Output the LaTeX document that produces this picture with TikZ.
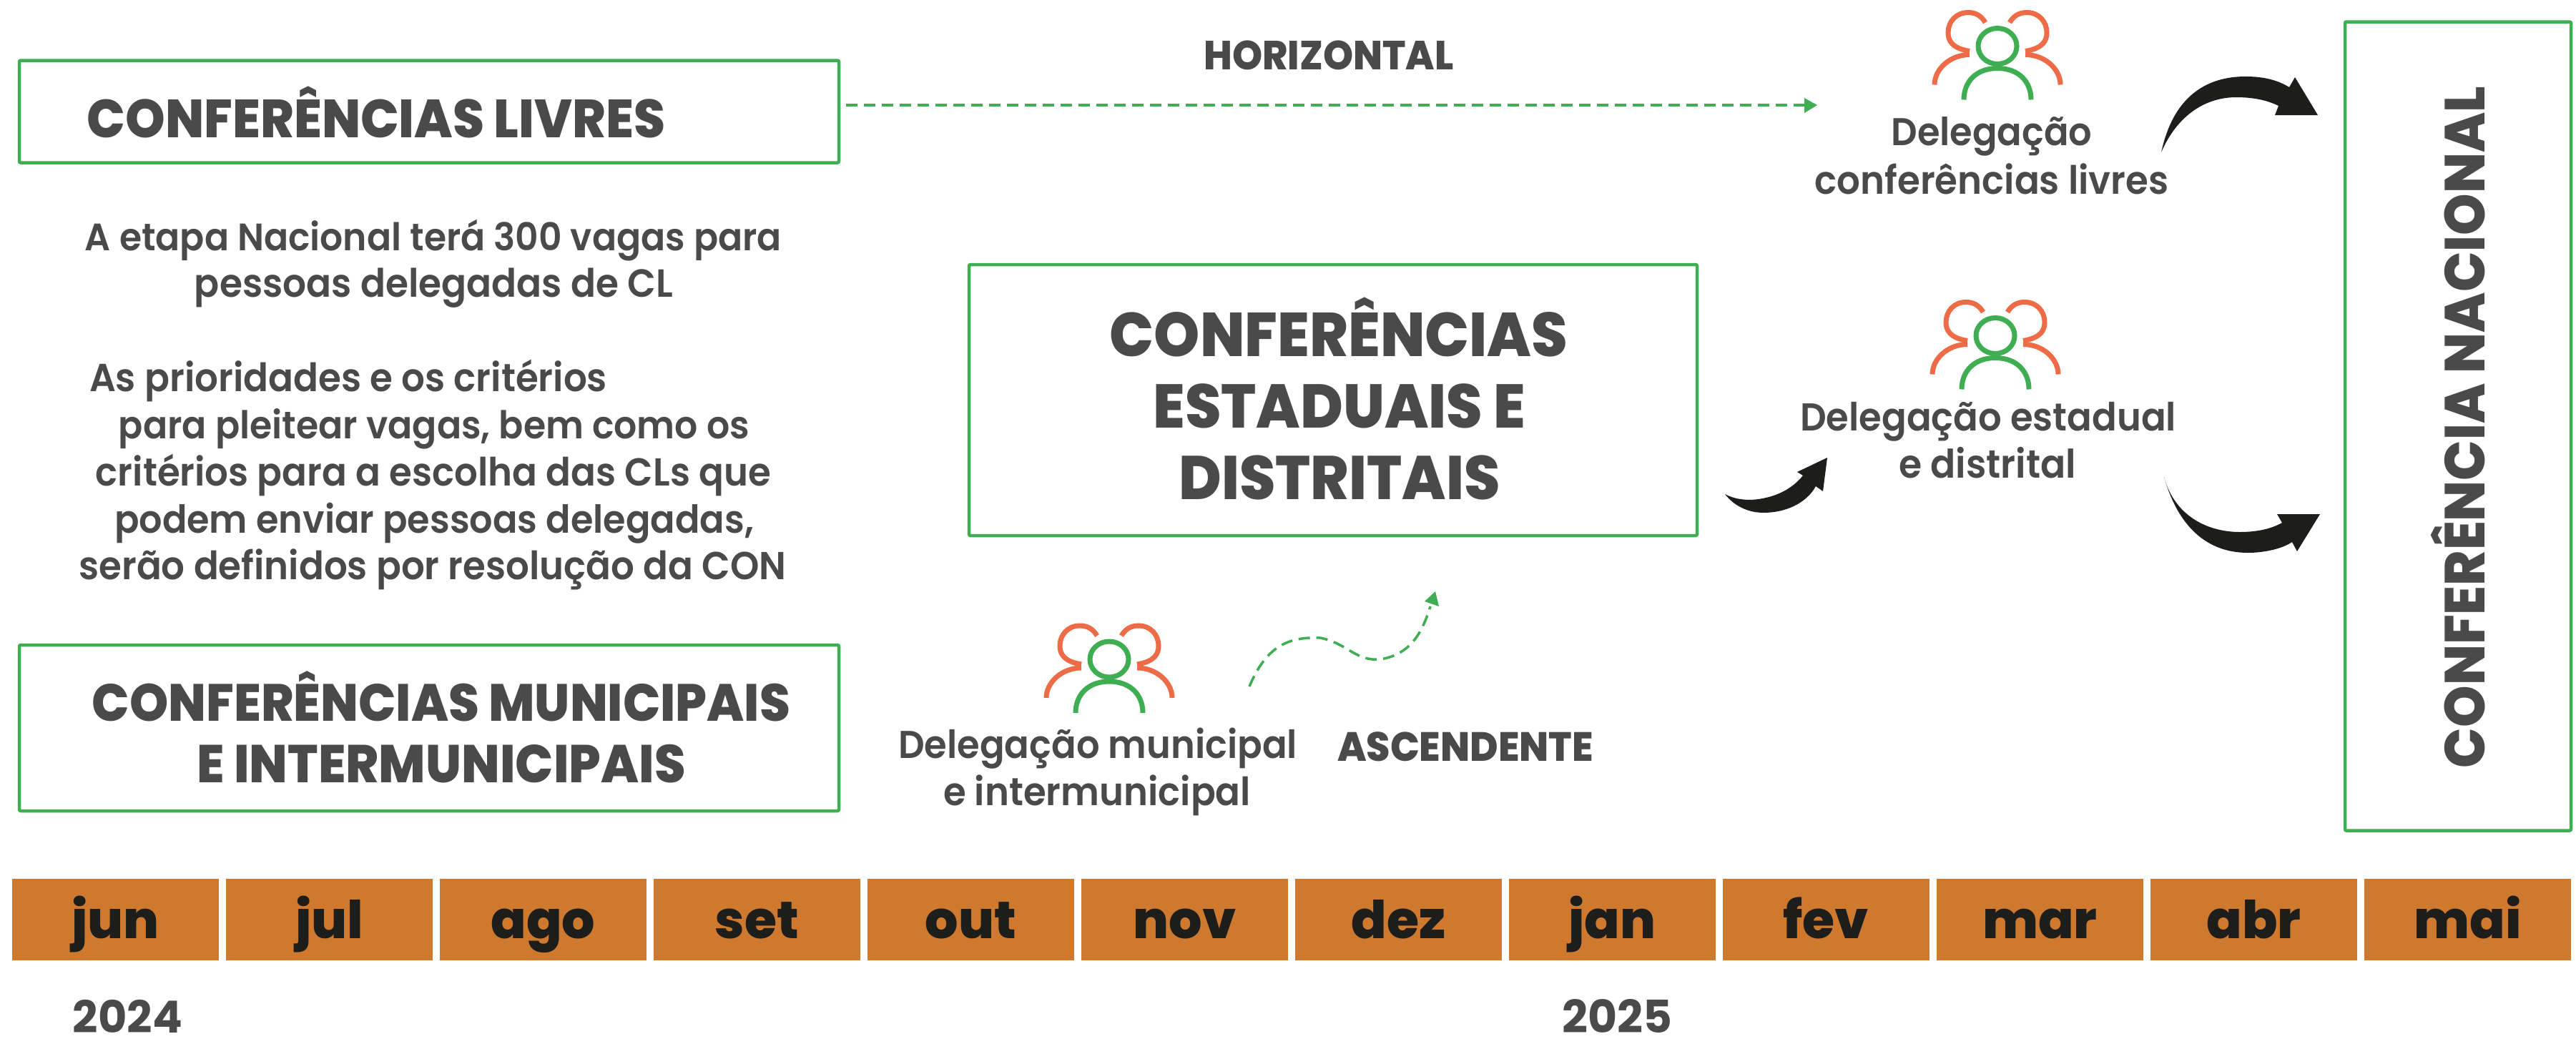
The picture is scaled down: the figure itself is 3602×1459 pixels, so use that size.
\documentclass[tikz,border=0pt]{standalone}
\usepackage{fontspec}
\usetikzlibrary{arrows.meta}
\setmainfont{Poppins}
\newfontfamily\hvyf{Poppins ExtraBold}
\newfontfamily\medf{Poppins SemiBold}
\definecolor{grn}{HTML}{3FAE52}
\definecolor{org}{HTML}{EE6B47}
\definecolor{txt}{HTML}{4A4A4A}
\definecolor{blk}{HTML}{1D1D1B}
\definecolor{bar}{HTML}{CE792E}
\newcommand{\fitw}[2]{\scalebox{1}[1.06]{\resizebox{#1pt}{!}{#2}}}
\tikzset{
  x=1pt,y=-1pt,
  gbox/.style={draw=grn,line width=4.5pt,rounded corners=2pt,inner sep=0},
  hd/.style={text=txt,font=\fontsize{54}{70}\selectfont\hvyf,inner sep=0,anchor=base},
  lbl/.style={text=txt,font=\fontsize{54}{70}\selectfont\medf,inner sep=0,anchor=base},
  monthcell/.style={fill=bar,draw=none,minimum width=289pt,minimum height=114pt,inner sep=0},
  monthtext/.style={text=blk,font=\fontsize{73}{70}\selectfont\hvyf,inner sep=0,anchor=base},
  yeartext/.style={text=txt,font=\fontsize{62}{70}\selectfont\bfseries,inner sep=0,anchor=base},
  grnln/.style={draw=grn,line width=7pt},
  orgln/.style={draw=org,line width=7pt},
  dashl/.style={draw=grn,line width=3.5pt,dash pattern=on 16pt off 9pt},
  blob/.style={fill=blk,draw=none},
  people/.pic={
    \draw[orgln] (-17,-33) .. controls (-23,-43) and (-31,-47) .. (-41,-47) .. controls (-58,-47) and (-69,-34) .. (-69,-19) .. controls (-69,-8) and (-64,3) .. (-39,7);
    \draw[orgln] (-39,12) .. controls (-66,12) and (-88,32) .. (-88,54);
    \draw[orgln] (17,-33) .. controls (23,-43) and (31,-47) .. (41,-47) .. controls (58,-47) and (69,-34) .. (69,-19) .. controls (69,-8) and (64,3) .. (39,7);
    \draw[orgln] (39,12) .. controls (66,12) and (88,32) .. (88,54);
    \draw[grnln] (0,0) ellipse (27 and 25);
    \draw[grnln] (-47,75) .. controls (-47,50) and (-30,31) .. (0,31) .. controls (30,31) and (47,50) .. (47,75);
  }
}
\begin{document}
\begin{tikzpicture}
\useasboundingbox (0,0) rectangle (3602,1459);
% boxes
\node[gbox,minimum width=1146pt,minimum height=143pt] (livres) at (600,156) {};
\node[gbox,minimum width=1146pt,minimum height=232pt] (munic) at (600,1018) {};
\node[gbox,minimum width=1018pt,minimum height=379pt] (estad) at (1864,559.5) {};
\node[gbox,minimum width=316pt,minimum height=1131pt] (nacional) at (3437,596) {};
% headings
\node[hd] (tlivres) at (526,192) {\fitw{808}{CONFERÊNCIAS LIVRES}};
\node[hd] (tm1) at (617,1008) {\fitw{976}{CONFERÊNCIAS MUNICIPAIS}};
\node[hd] (tm2) at (617,1094) {\fitw{683}{E INTERMUNICIPAIS}};
\node[hd] (te1) at (1872,498) {\fitw{640}{CONFERÊNCIAS}};
\node[hd] (te2) at (1873,598) {\fitw{521}{ESTADUAIS E}};
\node[hd] (te3) at (1873,698) {\fitw{449}{DISTRITAIS}};
\node[hd,rotate=90] (tn) at (3474,597.5) {\fitw{953}{CONFERÊNCIA NACIONAL}};
\node[hd] (hor) at (1858,97) {\fitw{349}{HORIZONTAL}};
\node[hd] (asc) at (2049,1064) {\fitw{358}{ASCENDENTE}};
% body text
\node[lbl] (p1) at (606,350) {\fitw{974}{A etapa Nacional terá 300 vagas para}};
\node[lbl] (p2) at (606.5,415) {\fitw{669}{pessoas delegadas de CL}};
\node[lbl] (p3) at (487,547) {\fitw{724}{As prioridades e os critérios}};
\node[lbl] (p4) at (607,613) {\fitw{882}{para pleitear vagas, bem como os}};
\node[lbl] (p5) at (606,679) {\fitw{944}{critérios para a escolha das CLs que}};
\node[lbl] (p6) at (607,745) {\fitw{894}{podem enviar pessoas delegadas,}};
\node[lbl] (p7) at (605,810) {\fitw{989}{serão definidos por resolução da CON}};
% delegation labels
\node[lbl] (d1a) at (2785,203) {\fitw{281}{Delegação}};
\node[lbl] (d1b) at (2785,271) {\fitw{495}{conferências livres}};
\node[lbl] (d2a) at (2780,602) {\fitw{526}{Delegação estadual}};
\node[lbl] (d2b) at (2779,668) {\fitw{248}{e distrital}};
\node[lbl] (d3a) at (1535,1060) {\fitw{558}{Delegação municipal}};
\node[lbl] (d3b) at (1534,1126) {\fitw{430}{e intermunicipal}};
% icons
\pic at (2793,64.5) {people};
\pic at (2790,469.5) {people};
\pic at (1551,922) {people};
% dashed connectors
\coordinate (h0) at (1183,147);
\coordinate (h1) at (2525,147);
\draw[dashl] (h0) -- (h1);
\fill[grn] (2541,147) -- (2523,137) -- (2523,158) -- cycle;
\coordinate (a0) at (1747,960);
\coordinate (a1) at (2000,848);
\draw[dashl] (a0) .. controls (1770,905) and (1800,890) .. (1846,892) .. controls (1885,900) and (1895,925) .. (1930,922) .. controls (1975,915) and (1990,880) .. (a1);
\fill[grn] (2007,827) -- (1992,841) -- (2012,848) -- cycle;
% black arrows
\fill[blob] (3022,213) .. controls (3040,130) and (3090,107) .. (3140,107) .. controls (3165,107) and (3185,112) .. (3201,122) -- (3209,108) -- (3241,161) -- (3181,161) -- (3186,148) .. controls (3170,140) and (3150,136) .. (3127,136) .. controls (3085,136) and (3045,160) .. cycle;
\fill[blob] (2412,691) .. controls (2425,698) and (2438,699) .. (2449,699) .. controls (2480,697) and (2505,685) .. (2521,665) -- (2513,660) -- (2555,640) -- (2549,687) -- (2539,680) .. controls (2525,705) and (2495,717) .. (2466,717) .. controls (2445,717) and (2425,708) .. cycle;
\fill[blob] (3026,667) .. controls (3040,720) and (3085,744) .. (3132,744) .. controls (3155,744) and (3175,740) .. (3191,731) -- (3184,719) -- (3244,719) -- (3212,771) -- (3205,758) .. controls (3190,768) and (3165,773) .. (3143,773) .. controls (3085,773) and (3045,735) .. cycle;
% timeline
\foreach \n/\m [count=\i from 0] in {a/jun,b/jul,c/ago,d/set,e/out,f/nov,g/dez,h/jan,i/fev,j/mar,k/abr,l/mai}{
  \node[monthcell] (m\n) at ({161.5+\i*299},1286) {};
  \node[monthtext] (t\n) at ({161.5+\i*299},1312) {\m};
}
\node[yeartext] (y24) at (178.5,1444) {\resizebox{153pt}{!}{2024}};
\node[yeartext] (y25) at (2261,1444) {\resizebox{154pt}{!}{2025}};
\end{tikzpicture}
\end{document}
